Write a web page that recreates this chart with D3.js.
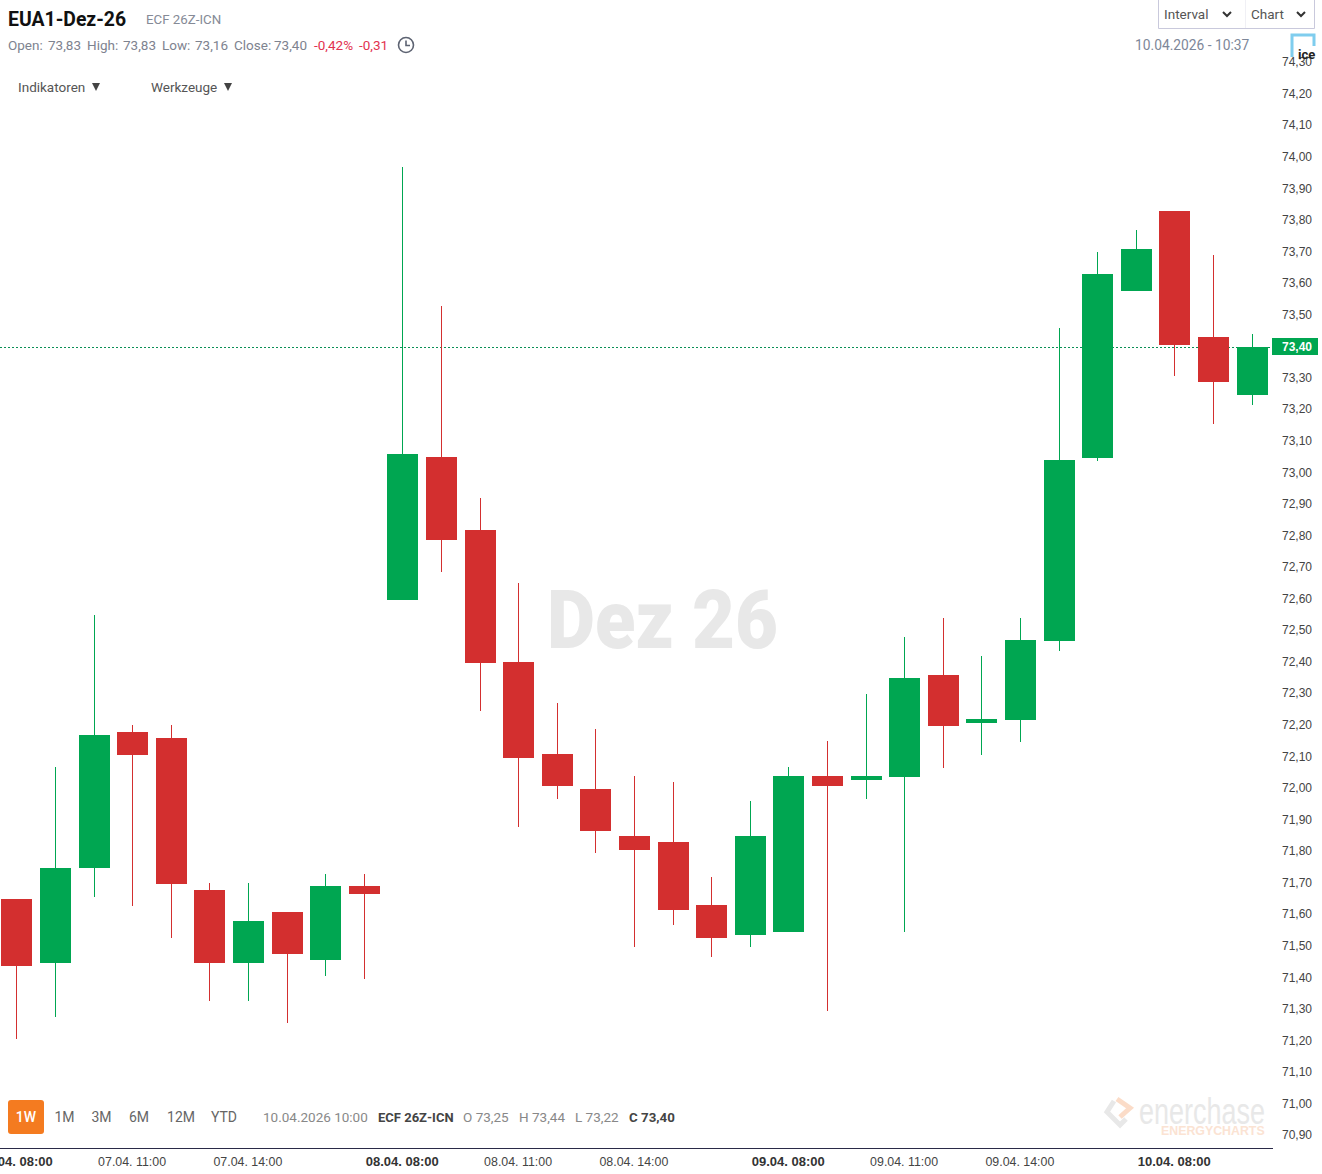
<!DOCTYPE html>
<html>
<head>
<meta charset="utf-8">
<title>EUA1-Dez-26</title>
<script src="https://cdn.jsdelivr.net/npm/d3@7"></script>
<style>
    html, body { margin: 0; padding: 0; background: #fff; overflow: hidden; }
    svg { display: block; }
    text { font-family: Roboto, sans-serif; }
    .axis text { font-family: 'Liberation Sans', Arial, sans-serif; font-size: 12px; fill: #444; }
    .axis path, .axis line { display: none; }
</style>
</head>
<body>
<div id="chart"></div>
<script>
// hourly candles, 08:00 - 17:00
const categories = [
    '07.04. 08:00', '07.04. 09:00', '07.04. 10:00', '07.04. 11:00', '07.04. 12:00',
    '07.04. 13:00', '07.04. 14:00', '07.04. 15:00', '07.04. 16:00', '07.04. 17:00',
    '08.04. 08:00', '08.04. 09:00', '08.04. 10:00', '08.04. 11:00', '08.04. 12:00',
    '08.04. 13:00', '08.04. 14:00', '08.04. 15:00', '08.04. 16:00', '08.04. 17:00',
    '09.04. 08:00', '09.04. 09:00', '09.04. 10:00', '09.04. 11:00', '09.04. 12:00',
    '09.04. 13:00', '09.04. 14:00', '09.04. 15:00', '09.04. 16:00', '09.04. 17:00',
    '10.04. 08:00', '10.04. 09:00', '10.04. 10:00'
];
const open = [71.65, 71.45, 71.75, 72.18, 72.16, 71.68, 71.45, 71.61, 71.46, 71.69,
    72.60, 73.05, 72.82, 72.40, 72.11, 72.00, 71.85, 71.83, 71.63, 71.54,
    71.55, 72.04, 72.03, 72.04, 72.36, 72.21, 72.22, 72.47, 73.05, 73.58,
    73.83, 73.43, 73.25];
const high = [71.65, 72.07, 72.55, 72.20, 72.20, 71.70, 71.70, 71.61, 71.73, 71.73,
    73.97, 73.53, 72.92, 72.65, 72.27, 72.19, 72.04, 72.02, 71.72, 71.96,
    72.07, 72.15, 72.30, 72.48, 72.54, 72.42, 72.54, 73.46, 73.70, 73.77,
    73.83, 73.69, 73.44];
const low = [71.21, 71.28, 71.66, 71.63, 71.53, 71.33, 71.33, 71.26, 71.41, 71.40,
    72.60, 72.69, 72.25, 71.88, 71.97, 71.80, 71.50, 71.57, 71.47, 71.50,
    71.55, 71.30, 71.97, 71.55, 72.07, 72.11, 72.15, 72.44, 73.04, 73.58,
    73.31, 73.16, 73.22];
const close = [71.44, 71.75, 72.17, 72.11, 71.70, 71.45, 71.58, 71.48, 71.69, 71.67,
    73.06, 72.79, 72.40, 72.10, 72.01, 71.87, 71.81, 71.62, 71.53, 71.85,
    72.04, 72.01, 72.04, 72.35, 72.20, 72.22, 72.47, 73.04, 73.63, 73.71,
    73.41, 73.29, 73.40];
const priceTicks = [70.9, 71.0, 71.1, 71.2, 71.3, 71.4, 71.5, 71.6, 71.7, 71.8, 71.9,
    72.0, 72.1, 72.2, 72.3, 72.4, 72.5, 72.6, 72.7, 72.8, 72.9,
    73.0, 73.1, 73.2, 73.3, 73.4, 73.5, 73.6, 73.7, 73.8, 73.9,
    74.0, 74.1, 74.2, 74.3];
const timeTicks = ['07.04. 08:00', '07.04. 11:00', '07.04. 14:00', '08.04. 08:00', '08.04. 11:00',
    '08.04. 14:00', '09.04. 08:00', '09.04. 11:00', '09.04. 14:00', '10.04. 08:00'];
const lastPrice = 73.40;

const width = 1322, height = 1174;
const green = '#00a651', red = '#d32f2f';

const svg = d3.select('#chart').append('svg')
    .attr('width', width)
    .attr('height', height);

const x = d3.scalePoint().domain(categories).range([16.8, 1252]);
const y = d3.scaleLinear().domain([73, 74]).range([473.5, 157.9]);
const priceFormat = d3.formatLocale({ decimal: ',', thousands: '.', grouping: [3], currency: ['', ''] }).format('.2f');

// watermark
svg.append('text')
    .attr('x', 547).attr('y', 648)
    .attr('textLength', 231).attr('lengthAdjust', 'spacingAndGlyphs')
    .style('font-size', '82px').style('font-weight', 900).style('fill', '#e8e8e8')
    .text('Dez 26');

// last price line goes behind the candles
svg.append('line')
    .attr('x1', 0).attr('x2', 1272)
    .attr('y1', Math.round(y(lastPrice)) + 0.5).attr('y2', Math.round(y(lastPrice)) + 0.5)
    .attr('stroke', '#0b8f55')
    .attr('stroke-dasharray', '2,2');

const candles = svg.append('g').selectAll('g')
    .data(categories)
    .join('g')
    .attr('fill', (d, i) => close[i] >= open[i] ? green : red);

const bodyLeft = d => Math.round(x(d) - 15.5);
const yTop = v => Math.floor(y(v));
const yBottom = v => Math.ceil(y(v));

candles.append('rect')
    .attr('x', d => bodyLeft(d) + 15)
    .attr('width', 1)
    .attr('y', (d, i) => yTop(high[i]))
    .attr('height', (d, i) => yBottom(low[i]) - yTop(high[i]));

candles.append('rect')
    .attr('x', bodyLeft)
    .attr('width', 31)
    .attr('y', (d, i) => yTop(Math.max(open[i], close[i])))
    .attr('height', (d, i) => yBottom(Math.min(open[i], close[i])) - yTop(Math.max(open[i], close[i])));

// axes
const yAxis = svg.append('g')
    .attr('class', 'axis')
    .attr('transform', 'translate(1312,-1.3)')
    .call(d3.axisLeft(y).tickValues(priceTicks).tickFormat(priceFormat).tickSize(0).tickPadding(0));

const xAxis = svg.append('g')
    .attr('class', 'axis')
    .attr('transform', 'translate(-1,1149)')
    .call(d3.axisBottom(x).tickValues(timeTicks).tickSize(0).tickPadding(8));
xAxis.selectAll('text')
    .style('font-size', d => d.endsWith('08:00') ? '13px' : '12.4px')
    .style('font-weight', d => d.endsWith('08:00') ? 700 : 400)
    .style('fill', d => d.endsWith('08:00') ? '#333' : '#444');

svg.append('line')
    .attr('x1', 0).attr('x2', 1273)
    .attr('y1', 1148.5).attr('y2', 1148.5)
    .attr('stroke', '#2a2a48');

// last price label
svg.append('rect')
    .attr('x', 1272).attr('y', Math.round(y(lastPrice)) - 9)
    .attr('width', 46).attr('height', 17)
    .attr('fill', green);
svg.append('text')
    .attr('x', 1312).attr('y', Math.round(y(lastPrice)) + 4)
    .attr('text-anchor', 'end')
    .style('font-family', "'Liberation Sans', Arial, sans-serif")
    .style('font-size', '12px').style('font-weight', 700).style('fill', '#fff')
    .text(priceFormat(lastPrice));

function label(px, py, str, size, color, weight) {
    return svg.append('text')
        .attr('x', px).attr('y', py)
        .style('font-size', size + 'px')
        .style('fill', color)
        .style('font-weight', weight || 400)
        .text(str);
}

// header
label(8, 26, 'EUA1-Dez-26', 19.4, '#111', 700);
label(146, 24, 'ECF 26Z-ICN', 13.3, '#858a96');

const grey = '#7e838f', loss = '#e2324f';
label(8, 50, 'Open:', 13.5, grey);
label(48, 50, '73,83', 13.5, grey);
label(87, 50, 'High:', 13.5, grey);
label(123, 50, '73,83', 13.5, grey);
label(162, 50, 'Low:', 13.5, grey);
label(195, 50, '73,16', 13.5, grey);
label(234, 50, 'Close:', 13.5, grey);
label(274, 50, '73,40', 13.5, grey);
label(314, 50, '-0,42%', 13.5, loss);
label(359, 50, '-0,31', 13.5, loss);

svg.append('circle')
    .attr('cx', 406).attr('cy', 45).attr('r', 7.5)
    .attr('fill', 'none').attr('stroke', '#5d6372').attr('stroke-width', 1.6);
svg.append('path')
    .attr('d', 'M406,40.5V45.5H410')
    .attr('fill', 'none').attr('stroke', '#5d6372').attr('stroke-width', 1.6);

label(18, 92, 'Indikatoren', 13.5, '#555');
label(151, 92, 'Werkzeuge', 13.5, '#555');
svg.append('path').attr('d', 'M92,83H100L96,91Z').attr('fill', '#444');
svg.append('path').attr('d', 'M224,83H232L228,91Z').attr('fill', '#444');

// top right buttons
svg.append('path')
    .attr('d', 'M1158.5,0V28.5H1314.5V0')
    .attr('fill', 'none').attr('stroke', '#c9c9dc');
svg.append('line')
    .attr('x1', 1245.5).attr('x2', 1245.5).attr('y1', 0).attr('y2', 28)
    .attr('stroke', '#f0f0f5');
label(1164, 19, 'Interval', 13.5, '#555');
label(1251, 19, 'Chart', 13.5, '#555');
svg.selectAll('.chevron')
    .data([1227, 1301])
    .join('path')
    .attr('class', 'chevron')
    .attr('d', d => `M${d - 4},12L${d},16L${d + 4},12`)
    .attr('fill', 'none').attr('stroke', '#333').attr('stroke-width', 2);
label(1135, 50, '10.04.2026 - 10:37', 13.8, '#7d8799');

// ice logo
svg.append('path')
    .attr('d', 'M1292,57V35H1314V46')
    .attr('fill', 'none').attr('stroke', '#7fcdee').attr('stroke-width', 3);
label(1298, 59, 'ice', 13, '#222', 700);

// range selector
svg.append('rect')
    .attr('x', 8).attr('y', 1100).attr('width', 36).attr('height', 34).attr('rx', 3)
    .attr('fill', '#f47b20');
label(26, 1122, '1W', 14, '#fff', 500).attr('text-anchor', 'middle');
[['1M', 64.5], ['3M', 101.5], ['6M', 139], ['12M', 181], ['YTD', 224]].forEach(r => {
    label(r[1], 1122, r[0], 14, '#666').attr('text-anchor', 'middle');
});

// selected point readout
label(263, 1122, '10.04.2026 10:00', 13.5, '#888');
label(378, 1122, 'ECF 26Z-ICN', 13, '#444', 700);
label(463, 1122, 'O 73,25', 13.5, '#888');
label(519, 1122, 'H 73,44', 13.5, '#888');
label(575, 1122, 'L 73,22', 13.5, '#888');
label(629, 1122, 'C 73,40', 13.3, '#444', 700);

// enerchase logo
svg.append('path')
    .attr('d', 'M1114,1101L1107,1112L1120,1125L1126,1119')
    .attr('fill', 'none').attr('stroke', '#e8e8e8').attr('stroke-width', 5);
svg.append('path')
    .attr('d', 'M1117,1099L1130,1108L1120,1117')
    .attr('fill', 'none').attr('stroke', '#fbdcc8').attr('stroke-width', 5);
svg.append('text')
    .attr('transform', 'translate(1139,1124) scale(0.75,1)')
    .style('font-family', "'Liberation Sans', Arial, sans-serif")
    .style('font-size', '36px').style('fill', '#e8e8e8')
    .text('enerchase');
svg.append('text')
    .attr('transform', 'translate(1161,1135) scale(1.03,1)')
    .style('font-family', "'Liberation Sans', Arial, sans-serif")
    .style('font-size', '12px').style('font-weight', 700).style('fill', '#fbe3d3')
    .text('ENERGYCHARTS');
</script>
</body>
</html>
